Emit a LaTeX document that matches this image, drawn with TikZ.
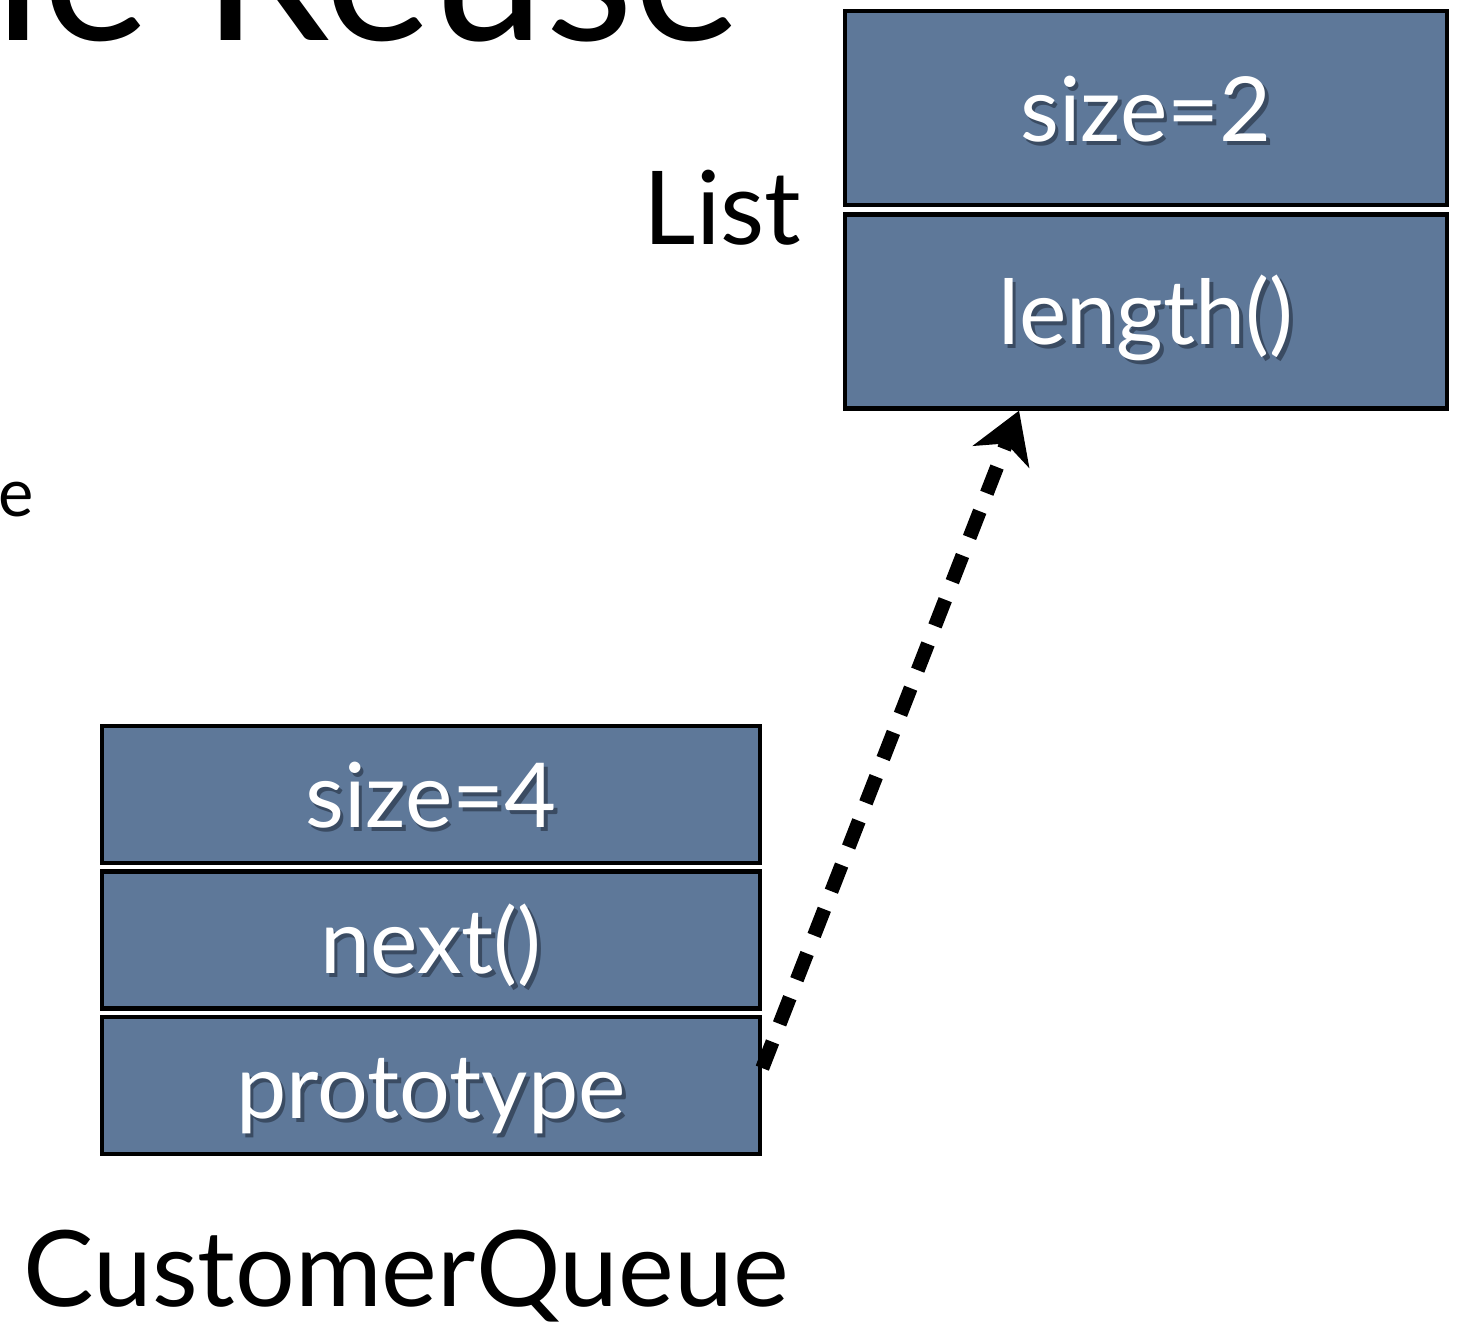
\documentclass[tikz,border=0pt]{standalone}
\usepackage{fontspec}
\setmainfont{Lato}
\usetikzlibrary{arrows.meta}
\definecolor{boxc}{RGB}{94,120,153}
\definecolor{shadowc}{RGB}{58,75,98}
\newcommand\shtxt[1]{\makebox[0pt][l]{\hspace{1pt}\raisebox{-1.2pt}{\textcolor{shadowc}{#1}}}#1}
\tikzset{
  cell/.style={draw=black, line width=1.2pt, fill=boxc, text=white, inner sep=0pt,
    text height=18.8pt, text depth=0pt,
    font=\fontsize{25.5}{30}\selectfont},
  listcell/.style={cell, minimum width=6.02cm, minimum height=1.94cm},
  cqcell/.style={cell, minimum width=6.58cm, minimum height=1.37cm},
  caption/.style={inner sep=0pt, text=black},
  dasharrow/.style={line width=4pt, dash pattern=on 8pt off 5.5pt,
    -{Stealth[length=14pt,width=17pt,inset=4pt]}}
}
\begin{document}
\begin{tikzpicture}[x=0.01cm,y=-0.01cm]
\useasboundingbox (0,0) rectangle (1462,1327);
\begin{scope}
\clip (0,0) rectangle (1462,1327);
\node[caption, anchor=base east, font=\fontsize{58}{66}\selectfont] (title) at (742,41) {le Reuse};
\end{scope}
\node[caption, anchor=base west, font=\fontsize{19}{22}\selectfont] (bullet) at (-2,517) {e};
% List object
\node[listcell] (l1) at (1146,108) {\shtxt{size=2}};
\node[listcell] (l2) at (1146,311.5) {\shtxt{length()}};
\node[caption, anchor=base east, font=\fontsize{29}{34}\selectfont] (listlbl) at (802,245) {List};
% CustomerQueue object
\node[cqcell] (c1) at (431,794.5) {\shtxt{size=4}};
\node[cqcell] (c2) at (431,940) {\shtxt{next()}};
\node[cqcell] (c3) at (431,1085.5) {\shtxt{prototype}};
\node[caption, anchor=base, font=\fontsize{30}{36}\selectfont] (cqlbl) at (406,1306) {CustomerQueue};
% prototype link
\draw[dasharrow] (c3.3) -- (l2.218);
\end{tikzpicture}
\end{document}
